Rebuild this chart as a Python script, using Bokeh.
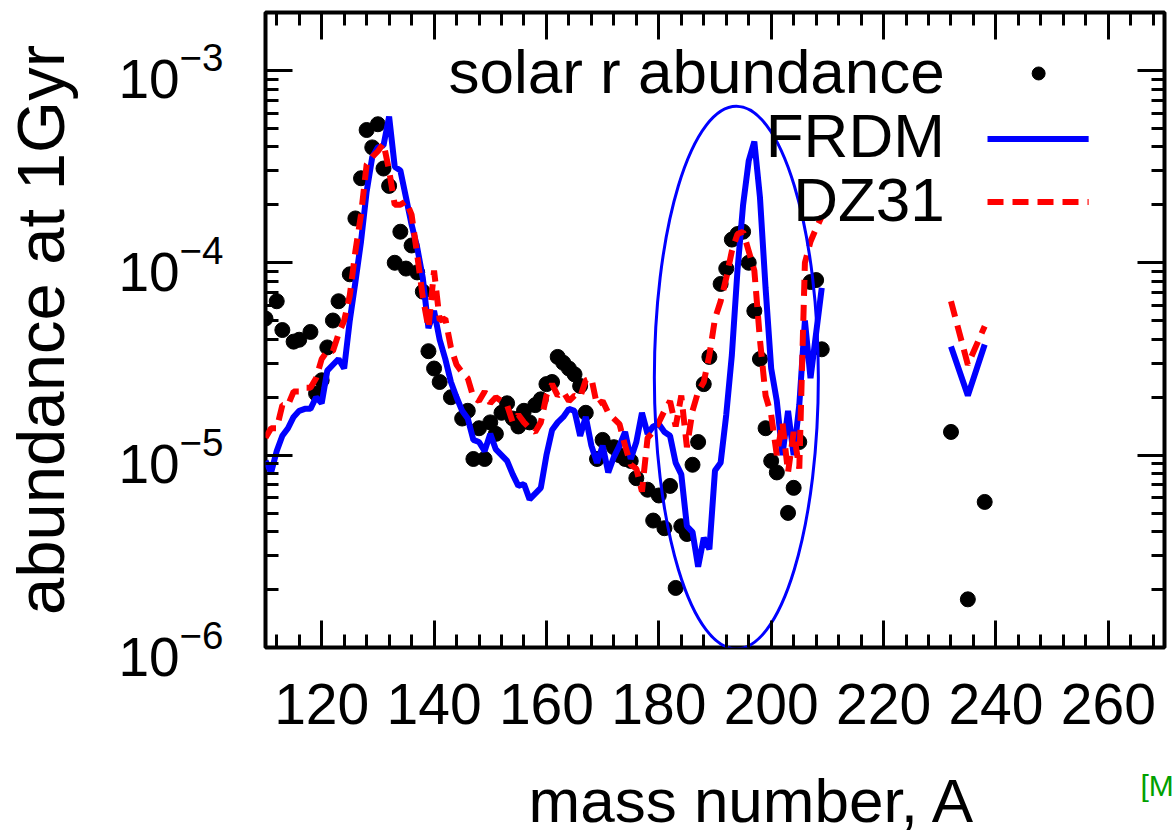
from bokeh.plotting import figure
from bokeh.models import (LogAxis, LinearAxis, FixedTicker, LogTicker, Label, Range1d,
                          CustomJSTickFormatter)
from bokeh.embed import file_html
from bokeh.resources import INLINE

# ---------------- data ----------------
solar_A = [110, 112, 113, 115, 116, 118, 119, 120, 121, 122, 123, 125, 126, 127, 128, 129, 130,
           131, 132, 133, 134, 135, 136, 137, 138, 139, 140, 141, 143, 145, 146, 147, 148, 149,
           150, 151, 152, 153, 154, 155, 156, 157, 158, 159, 160, 161, 162, 163, 164, 165, 166,
           167, 169, 170, 172, 173, 174, 175, 176, 178, 179, 180, 181, 182, 183, 184, 185, 186,
           187, 188, 189, 191, 192, 193, 194, 195, 196, 197, 198, 199, 200, 201, 203, 204, 205,
           207, 208, 209, 232, 235, 238]
solar_y = [5.13e-5, 6.31e-5, 4.47e-5, 3.89e-5, 3.98e-5, 4.37e-5, 2.09e-5, 2.45e-5, 3.63e-5, 5.01e-5,
           6.31e-5, 8.71e-5, 1.70e-4, 2.75e-4, 4.90e-4, 3.98e-4, 5.25e-4,
           3.09e-4, 2.51e-4, 1.00e-4, 1.45e-4, 9.33e-5, 1.23e-4, 8.91e-5, 7.08e-5, 3.47e-5, 2.82e-5,
           2.40e-5, 2.00e-5, 1.55e-5, 1.70e-5, 9.55e-6, 1.38e-5, 9.55e-6,
           1.48e-5, 1.29e-5, 1.66e-5, 1.86e-5, 1.55e-5, 1.41e-5, 1.70e-5, 1.48e-5, 1.82e-5, 1.95e-5,
           2.34e-5, 2.40e-5, 3.24e-5, 3.02e-5, 2.82e-5, 2.63e-5, 2.29e-5,
           1.66e-5, 9.55e-6, 1.20e-5, 1.10e-5, 1.00e-5, 9.55e-6, 9.33e-6, 7.59e-6, 6.61e-6, 4.57e-6,
           6.17e-6, 4.17e-6, 6.92e-6, 2.04e-6, 4.27e-6, 3.89e-6, 8.91e-6,
           1.17e-5, 2.34e-5, 3.24e-5, 7.76e-5, 9.33e-5, 1.32e-4, 1.41e-4, 1.45e-4, 1.00e-4, 5.62e-5,
           3.16e-5, 1.38e-5, 9.33e-6, 8.13e-6, 5.01e-6, 6.76e-6, 1.17e-5,
           7.94e-5, 8.13e-5, 3.55e-5, 1.32e-5, 1.78e-6, 5.71e-6]

frdm_A = list(range(110, 208)) + [209]
frdm_y = [9.33e-6, 8.13e-6, 1.05e-5, 1.26e-5, 1.38e-5, 1.58e-5, 1.70e-5, 1.74e-5, 1.74e-5, 2.00e-5,  # 110-119
          1.86e-5, 2.75e-5, 2.95e-5, 3.16e-5, 2.82e-5, 5.01e-5, 7.94e-5, 1.29e-4, 2.34e-4, 3.55e-4,  # 120-129
          3.98e-4, 4.07e-4, 5.75e-4, 3.16e-4, 3.02e-4, 2.19e-4, 1.58e-4, 1.20e-4, 8.32e-5, 4.57e-5,  # 130-139
          5.62e-5, 3.98e-5, 3.16e-5, 2.40e-5, 2.00e-5, 1.70e-5, 1.55e-5, 1.20e-5, 1.17e-5, 1.05e-5,  # 140-149
          1.29e-5, 1.07e-5, 1.00e-5, 9.33e-6, 7.94e-6, 6.92e-6, 7.08e-6, 5.89e-6, 6.31e-6, 6.76e-6,  # 150-159
          1.00e-5, 1.35e-5, 1.48e-5, 1.58e-5, 1.74e-5, 1.70e-5, 1.26e-5, 1.58e-5, 1.12e-5, 9.12e-6,  # 160-169
          1.12e-5, 8.13e-6, 9.77e-6, 1.12e-5, 1.32e-5, 9.55e-6, 1.17e-5, 1.66e-5, 1.29e-5, 1.41e-5,  # 170-179
          1.45e-5, 1.32e-5, 1.26e-5, 9.12e-6, 7.94e-6, 4.27e-6, 3.98e-6, 2.63e-6, 3.72e-6, 3.24e-6,  # 180-189
          8.32e-6, 9.12e-6, 1.62e-5, 3.31e-5, 9.12e-5, 2.00e-4, 3.39e-4, 4.27e-4, 2.19e-4, 7.41e-5,  # 190-199
          2.82e-5, 1.91e-5, 1.00e-5, 1.70e-5, 1.00e-5, 1.82e-5, 5.01e-5, 2.51e-5,                    # 200-207
          7.41e-5]                                                                                # 209
frdm_act_A = [232, 235, 238]
frdm_act_y = [3.67e-5, 2.04e-5, 3.76e-5]

dz31_A = list(range(110, 210))
dz31_y = [1.23e-5, 1.38e-5, 1.38e-5, 1.82e-5, 1.82e-5, 2.14e-5, 2.14e-5, 2.24e-5, 2.24e-5, 2.51e-5,  # 110-119
          3.16e-5, 3.47e-5, 3.47e-5, 4.27e-5, 5.01e-5, 6.76e-5, 1.15e-4, 1.78e-4, 3.24e-4, 3.55e-4,  # 120-129
          3.80e-4, 4.17e-4, 3.02e-4, 2.00e-4, 2.00e-4, 2.09e-4, 1.78e-4, 1.10e-4, 6.61e-5, 4.57e-5,  # 130-139
          9.12e-5, 5.01e-5, 5.13e-5, 3.63e-5, 2.95e-5, 2.69e-5, 2.51e-5, 2.00e-5, 1.91e-5, 2.14e-5,  # 140-149
          1.86e-5, 2.00e-5, 1.91e-5, 1.82e-5, 1.48e-5, 1.62e-5, 1.48e-5, 1.38e-5, 1.32e-5, 1.48e-5,  # 150-159
          2.04e-5, 2.34e-5, 2.04e-5, 2.14e-5, 1.91e-5, 2.04e-5, 2.00e-5, 2.45e-5, 2.51e-5, 1.82e-5,  # 160-169
          1.91e-5, 1.66e-5, 1.55e-5, 1.45e-5, 1.12e-5, 8.91e-6, 8.51e-6, 6.46e-6, 1.23e-5, 1.32e-5,  # 170-179
          1.48e-5, 1.70e-5, 1.91e-5, 1.41e-5, 2.04e-5, 1.10e-5, 1.70e-5, 2.14e-5, 2.40e-5, 3.31e-5,  # 180-189
          5.13e-5, 6.31e-5, 8.32e-5, 1.15e-4, 1.41e-4, 1.45e-4, 1.15e-4, 9.12e-5, 3.98e-5, 2.04e-5,  # 190-199
          1.62e-5, 1.00e-5, 1.48e-5, 8.13e-6, 1.32e-5, 8.51e-6, 1.00e-4, 1.29e-4, 1.51e-4, 1.74e-4]  # 200-209
dz31_act_A = [232, 235, 238]
dz31_act_y = [6.31e-5, 2.95e-5, 4.68e-5]

x_major = [120, 140, 160, 180, 200, 220, 240, 260]
x_minor = [a for a in range(112, 270, 4)]
series_labels = ["solar r abundance", "FRDM", "DZ31"]
axis_x_title = "mass number, A"
axis_y_title = "abundance at 1Gyr"
citation = "[M"

# ---------------- styling / layout ----------------
FONT = "Liberation Sans"
BLUE = "#0000ff"
RED = "#ff0000"
W = 1174
H_MAIN = 760
H_FOOT = 76

p = figure(width=W, height=H_MAIN, y_axis_type="log",
           x_range=Range1d(110, 270), y_range=Range1d(1e-6, 2.0e-3),
           output_backend="svg", toolbar_location=None,
           min_border_left=262, min_border_right=10, min_border_top=12,
           min_border_bottom=H_MAIN - 647)
p.title.visible = False
p.grid.visible = False
p.outline_line_color = "black"
p.outline_line_width = 4
p.background_fill_color = "white"
p.border_fill_color = "white"

xt = FixedTicker(ticks=x_major, minor_ticks=x_minor)
yt = LogTicker(num_minor_ticks=10)
blank = CustomJSTickFormatter(code="return ''")

def style_axis(ax, show_labels):
    ax.axis_line_color = None
    ax.major_tick_in = 27
    ax.major_tick_out = 0
    ax.minor_tick_in = 13
    ax.minor_tick_out = 0
    ax.major_tick_line_width = 3
    ax.minor_tick_line_width = 3
    ax.major_tick_line_color = "black"
    ax.minor_tick_line_color = "black"
    if not show_labels:
        ax.formatter = blank
        ax.major_label_standoff = 0

xa = p.xaxis[0]
xa.ticker = xt
style_axis(xa, True)
xa.major_label_text_font = FONT
xa.major_label_text_font_size = "57px"
xa.major_label_text_color = "black"
xa.major_label_standoff = 36

ya = p.yaxis[0]
ya.ticker = yt
style_axis(ya, True)
ya.major_label_text_font = FONT
ya.major_label_text_font_size = "55px"
ya.major_label_text_color = "black"
ya.major_label_standoff = 42
ya.axis_label = axis_y_title
ya.axis_label_text_font = FONT
ya.axis_label_text_font_size = "67px"
ya.axis_label_text_font_style = "normal"
ya.axis_label_text_color = "black"
ya.axis_label_standoff = 37

top = LinearAxis(ticker=xt)
style_axis(top, False)
p.add_layout(top, "above")
right = LogAxis(ticker=yt)
style_axis(right, False)
p.add_layout(right, "right")

# ---------------- data marks ----------------
p.scatter(solar_A, solar_y, marker="circle", size=15, color="black")
p.line(frdm_A, frdm_y, line_color=BLUE, line_width=6)
p.line(frdm_act_A, frdm_act_y, line_color=BLUE, line_width=6)
p.line(dz31_A, dz31_y, line_color=RED, line_width=6, line_dash="16 9")
p.line(dz31_act_A, dz31_act_y, line_color=RED, line_width=6, line_dash="16 9")

# highlight ellipse (screen-sized, centred in data space)
ell_center_A = 193.8
ell_center_y = 2.53e-5
ell_w_px = 164
ell_h_px = 543
p.ellipse(x=[ell_center_A], y=[ell_center_y], width=ell_w_px, height=ell_h_px,
          width_units="screen", height_units="screen",
          fill_color=None, line_color=BLUE, line_width=3)

# ---------------- key (text left, sample right) ----------------
key_text_A = 230.9
key_rows_y = [9.88e-4, 4.58e-4, 2.12e-4]      # text anchor heights
key_mark_y = [9.64e-4, 4.40e-4, 2.07e-4]      # sample centres
key_sample_A = [238.5, 256.5]
key_dot_A = 247.6
for lab, yb in zip(series_labels, key_rows_y):
    p.add_layout(Label(x=key_text_A, y=yb, text=lab, text_align="right",
                       text_baseline="alphabetic", text_font=FONT,
                       text_font_size="62px", text_color="black"))
p.scatter([key_dot_A], [key_mark_y[0]], marker="circle", size=13, color="black")
p.line(key_sample_A, [key_mark_y[1]] * 2, line_color=BLUE, line_width=6)
p.line(key_sample_A, [key_mark_y[2]] * 2, line_color=RED, line_width=6, line_dash="16 9")

# ---------------- footer strip (separate root): x-axis title and citation ----------------
foot = figure(width=W, height=H_FOOT, x_range=Range1d(0, W), y_range=Range1d(0, H_FOOT),
              x_axis_location=None, y_axis_location=None, toolbar_location=None,
              output_backend="svg", min_border=0)
foot.title.visible = False
foot.grid.visible = False
foot.outline_line_color = None
foot.background_fill_color = "white"
foot.border_fill_color = "white"
xtitle_pos = (752, 36)       # pixel position in the strip
cite_pos = (1140, 51)
foot.add_layout(Label(x=xtitle_pos[0], y=xtitle_pos[1], text=axis_x_title, text_align="center",
                      text_baseline="alphabetic", text_font=FONT, text_font_size="62px",
                      text_color="black"))
foot.add_layout(Label(x=cite_pos[0], y=cite_pos[1], text=citation, text_align="left",
                      text_baseline="alphabetic", text_font=FONT, text_font_size="30px",
                      text_color="#00a000"))

open("out.html", "w").write(file_html((p, foot), INLINE))
